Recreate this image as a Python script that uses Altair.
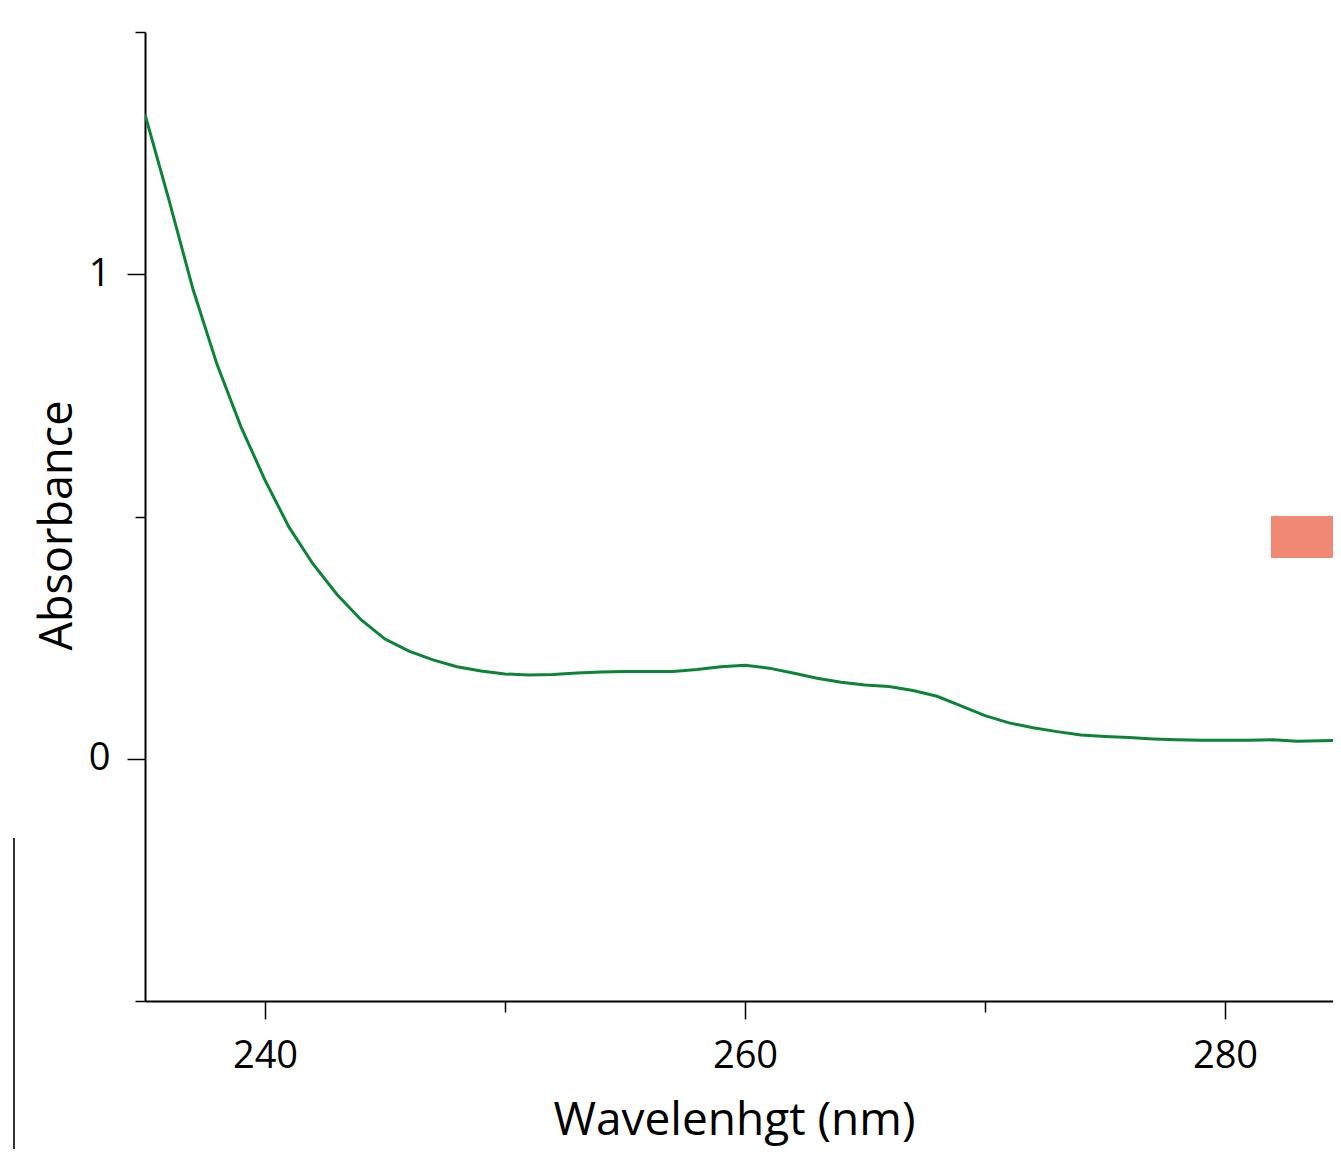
import altair as alt
import pandas as pd

wavelength = list(range(235, 286))
absorbance = [1.330, 1.153, 0.969, 0.814, 0.685, 0.575, 0.478, 0.402, 0.339, 0.287,
              0.247, 0.222, 0.204, 0.190, 0.181, 0.175, 0.173, 0.174, 0.177, 0.179,
              0.180, 0.180, 0.180, 0.184, 0.190, 0.193, 0.187, 0.177, 0.166, 0.158,
              0.152, 0.149, 0.141, 0.129, 0.109, 0.089, 0.074, 0.064, 0.056, 0.049,
              0.046, 0.044, 0.041, 0.039, 0.038, 0.038, 0.038, 0.039, 0.036, 0.037, 0.038]
series_names = ["Sample", "Reference"]
series_colors = ["#0b8437", "#f08873"]
x_ticks = [240, 250, 260, 270, 280]
y_ticks = [-0.5, 0, 0.5, 1, 1.5]

df = pd.DataFrame({"wavelength": wavelength, "absorbance": absorbance,
                   "series": [series_names[0]] * len(wavelength)})

FONT = "Open Sans"

line = alt.Chart(df).mark_line(strokeWidth=3, clip=True).encode(
    x=alt.X("wavelength:Q",
            scale=alt.Scale(domain=[235, 284.5], nice=False, zero=False),
            axis=alt.Axis(
                title="Wavelenhgt (nm)", values=x_ticks, grid=False,
                labelExpr="datum.value % 20 === 0 ? datum.label : ''",
                tickSize={"condition": {"test": "datum.value % 20 === 0", "value": 18}, "value": 11},
                labelBaseline="alphabetic", labelPadding=48,
                labelFont=FONT, labelFontSize=38, labelColor="black",
                titleFont=FONT, titleFontSize=46, titleFontWeight="normal", titleColor="black",
                titleX=589, titleY=133, titleBaseline="alphabetic", titleAlign="center",
                domainColor="black", domainWidth=2, tickColor="black", tickWidth=1.5,
                labelFlush=False, labelOverlap=False)),
    y=alt.Y("absorbance:Q",
            scale=alt.Scale(domain=[-0.5, 1.5], nice=False, zero=False),
            axis=alt.Axis(
                title="Absorbance", values=y_ticks, grid=False, format="~g",
                labelExpr="(datum.value === 0 || datum.value === 1) ? datum.label : ''",
                tickSize={"condition": {"test": "datum.value === 0 || datum.value === 1", "value": 18}, "value": 10},
                labelPadding=17,
                labelFont=FONT, labelFontSize=38, labelColor="black",
                titleFont=FONT, titleFontSize=45, titleFontWeight="normal", titleColor="black",
                titleX=-74, titleY=493, titleBaseline="alphabetic", titleAlign="center", titleAngle=270,
                domainColor="black", domainWidth=2, tickColor="black", tickWidth=1.5,
                labelFlush=False, labelOverlap=False)),
    color=alt.Color("series:N",
                    scale=alt.Scale(domain=series_names, range=series_colors),
                    legend=alt.Legend(
                        orient="none", legendX=1126, legendY=470, title=None,
                        values=[series_names[1]],
                        symbolType="M-1,-0.6H1V0.6H-1Z", symbolSize=4900,
                        symbolFillColor=series_colors[1], symbolStrokeColor=series_colors[1],
                        symbolStrokeWidth=0,
                        labelExpr="''",
                        labelFont=FONT, labelFontSize=38, labelColor="black",
                        padding=0)),
)

edge = alt.Chart(pd.DataFrame({"k": [0]})).mark_rule(color="#333333", strokeWidth=2).encode(
    x=alt.value(-131), y=alt.value(806), y2=alt.value(1117))

chart = alt.layer(line, edge).properties(
    width=1188, height=969,
    autosize=alt.AutoSizeParams(type="none"),
    padding={"left": 137, "top": 24, "right": 0, "bottom": 148},
    background="white",
).configure_view(stroke=None)

chart.save("out.html", embed_options={"renderer": "svg", "actions": False})
